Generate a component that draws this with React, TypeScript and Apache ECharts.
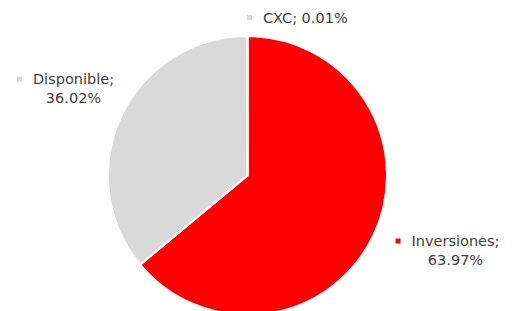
import React, { useEffect, useRef } from "react";
import * as echarts from "echarts";

const categories = ["Inversiones", "Disponible", "CXC"];
const values = [63.97, 36.02, 0.01];
const valueLabels = ["63.97%", "36.02%", "0.01%"];
const sliceColors = ["#FF0000", "#D9D9D9", "#D9D9D9"];

// label placement (block anchor), separate from data
const labelPlacement = [
  { x: 447.5, y: 250.5, align: "center", twoLines: true },
  { x: 65.5, y: 88.5, align: "center", twoLines: true },
  { x: 247, y: 17.5, align: "left", twoLines: false },
];

export default function App() {
  const ref = useRef<HTMLDivElement>(null);
  useEffect(() => {
    if (!ref.current) return;
    const chart = echarts.init(ref.current, null, { renderer: "svg" });
    const textColor = "#404040";
    const font = "DejaVu Sans";
    const fs = 14.5;
    chart.setOption({
      animation: false,
      backgroundColor: "#FFFFFF",
      series: [
        {
          type: "pie",
          center: [247.5, 175.5],
          radius: 139.5,
          startAngle: 90,
          clockwise: true,
          minAngle: 0,
          avoidLabelOverlap: false,
          itemStyle: { borderColor: "#FFFFFF", borderWidth: 2 },
          emphasis: { disabled: true },
          data: categories.map((name, i) => {
            const p = labelPlacement[i];
            const mk = "m" + i;
            const rich: any = {
              t: { fontFamily: font, fontSize: fs, color: textColor, lineHeight: 19 },
              g: { width: 11, height: 5 },
              s: { width: 16, height: 5 },
            };
            rich[mk] = { width: 5, height: 5, backgroundColor: sliceColors[i] };
            const formatter = p.twoLines
              ? `{${mk}|}{g|}{t|${name};}\n{s|}{t|${valueLabels[i]}}`
              : `{${mk}|}{g|}{t|${name}; ${valueLabels[i]}}`;
            return {
              name,
              value: values[i],
              itemStyle: { color: sliceColors[i] },
              label: {
                show: true,
                formatter,
                rich,
                fontFamily: font,
                fontSize: fs,
                color: textColor,
                lineHeight: 19,
              },
              labelLine: { show: false },
            };
          }),
          labelLayout: (params: any) => {
            const p = labelPlacement[params.dataIndex];
            return { x: p.x, y: p.y, align: p.align, verticalAlign: "middle" };
          },
        },
      ],
    });
    return () => chart.dispose();
  }, []);
  return (
    <div
      ref={ref}
      style={{ position: "fixed", left: 0, top: 0, width: 512, height: 311 }}
    />
  );
}
